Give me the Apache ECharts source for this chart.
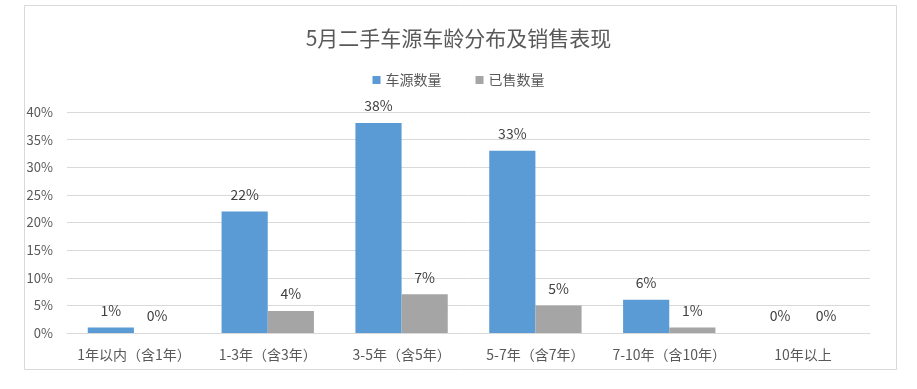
<!DOCTYPE html>
<html>
<head>
<meta charset="utf-8">
<script src="https://cdn.jsdelivr.net/npm/echarts@6/dist/echarts.min.js"></script>
<style>
html,body{margin:0;padding:0;background:#fff;}
#chart{width:917px;height:389px;}
</style>
</head>
<body>
<div id="chart"></div>
<script>
const categories = ['1年以内（含1年）','1-3年（含3年）','3-5年（含5年）','5-7年（含7年）','7-10年（含10年）','10年以上'];
const supplyValues = [1, 22, 38, 33, 6, 0];
const soldValues = [0, 4, 7, 5, 1, 0];
const seriesNames = ['车源数量','已售数量'];
const titleText = '5月二手车源车龄分布及销售表现';

const font = '"Noto Sans CJK SC", "Noto Sans", sans-serif';
const chart = echarts.init(document.getElementById('chart'));
const labelCfg = {
  show: true, position: 'top', formatter: '{c}%',
  color: '#404040', fontSize: 14, fontFamily: font, distance: 10
};
chart.setOption({
  backgroundColor: '#ffffff',
  animation: false,
  graphic: [{
    type: 'rect', left: 22, top: 3,
    shape: { width: 872, height: 364 },
    style: { fill: 'none', stroke: '#d9d9d9', lineWidth: 1 },
    silent: true
  }],
  title: {
    text: titleText, left: 'center', top: 23,
    textStyle: { color: '#595959', fontSize: 21, fontWeight: 'normal', fontFamily: font }
  },
  legend: {
    data: seriesNames, top: 68, left: 'center',
    itemWidth: 8, itemHeight: 8, itemGap: 34, icon: 'rect',
    textStyle: { color: '#595959', fontSize: 14, fontFamily: font }
  },
  grid: { left: 67, right: 47, top: 112, bottom: 56 },
  xAxis: {
    type: 'category', data: categories,
    axisLine: { lineStyle: { color: '#d9d9d9' } },
    axisTick: { show: false },
    axisLabel: { color: '#595959', fontSize: 14, fontFamily: font, margin: 15, interval: 0 }
  },
  yAxis: {
    type: 'value', min: 0, max: 40, interval: 5,
    axisLine: { show: false }, axisTick: { show: false },
    splitLine: { lineStyle: { color: '#d9d9d9' } },
    axisLabel: { color: '#595959', fontSize: 13, fontFamily: font, formatter: '{value}%', margin: 14 }
  },
  series: [
    { name: seriesNames[0], type: 'bar', data: supplyValues, barGap: '0%', barCategoryGap: '31%',
      itemStyle: { color: '#5b9bd5' }, label: labelCfg },
    { name: seriesNames[1], type: 'bar', data: soldValues,
      itemStyle: { color: '#a5a5a5' }, label: labelCfg }
  ]
});
</script>
</body>
</html>
